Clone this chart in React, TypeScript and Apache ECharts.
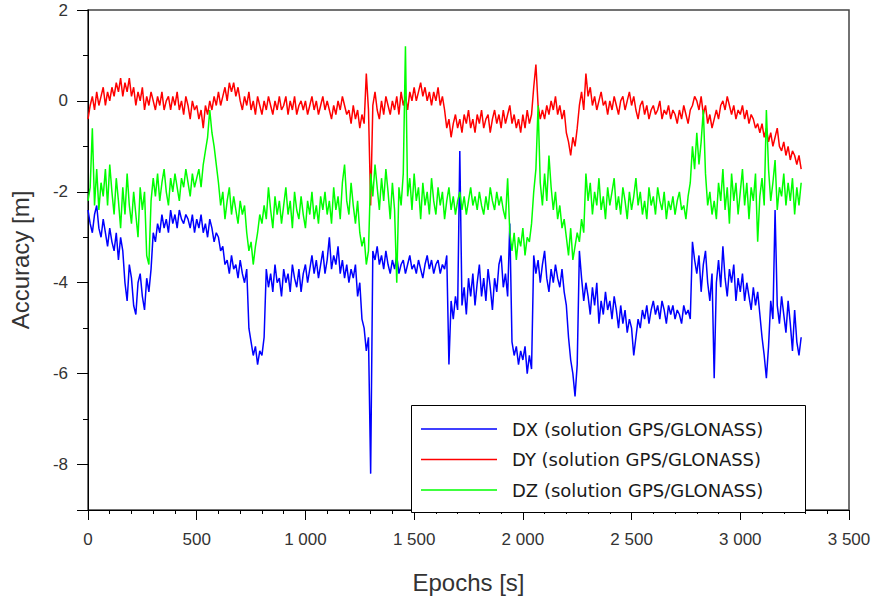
import React, { useEffect, useRef } from "react";
import * as echarts from "echarts";

// Sampling step of the epochs (s)
const EPOCH_STEP = 10;

// DX (solution GPS/GLONASS) – one value every 10 s, 0 s … 3280 s (rows of 100 s)
const dxValues = [
  -2.4, -2.7, -2.9, -2.5, -2.3, -2.8, -3.0, -2.6, -2.9, -3.2,
  -2.8, -3.1, -3.3, -2.9, -3.5, -3.0, -3.3, -4.0, -4.4, -3.6,
  -3.9, -4.5, -4.7, -4.0, -3.8, -4.3, -4.6, -3.9, -4.2, -3.7,
  -2.9, -3.1, -2.7, -2.9, -2.5, -2.8, -2.6, -2.9, -2.4, -2.7,
  -2.5, -2.8, -2.4, -2.6, -2.7, -2.5, -2.6, -2.8, -2.5, -2.9,
  -2.6, -2.8, -2.5, -2.9, -2.7, -3.0, -2.6, -2.8, -3.1, -2.9,
  -3.0, -3.3, -3.2, -3.6, -3.5, -3.8, -3.4, -3.7, -3.6, -3.9,
  -3.5, -3.8, -4.0, -3.7, -5.0, -5.3, -5.6, -5.4, -5.8, -5.5,
  -5.6, -5.2, -3.7, -4.1, -3.8, -4.2, -3.6, -4.0, -3.9, -4.3,
  -3.7, -4.0, -3.8, -4.2, -3.6, -3.9, -4.1, -3.7, -4.2, -3.8,
  -3.6, -4.0, -3.7, -3.4, -3.8, -3.5, -3.9, -3.6, -3.3, -3.8,
  -3.5, -3.0, -3.7, -3.4, -3.6, -3.2, -3.8, -3.5, -3.9, -3.6,
  -4.0, -3.7, -3.9, -3.6, -4.3, -4.0, -4.8, -5.0, -5.5, -5.2,
  -8.2, -3.3, -3.5, -3.2, -3.6, -3.4, -3.7, -3.3, -3.6, -3.8,
  -3.5, -3.7, -3.4, -3.8, -3.6, -3.5, -3.8, -3.6, -3.4, -3.7,
  -3.6, -3.8, -3.5, -3.7, -3.9, -3.6, -3.4, -3.7, -3.5, -3.8,
  -3.6, -3.5, -3.8, -3.6, -3.7, -3.4, -5.8, -4.4, -4.8, -4.3,
  -4.6, -1.1, -4.5, -4.1, -4.7, -3.9, -4.3, -3.8, -4.5, -4.0,
  -3.6, -4.3, -3.9, -4.4, -3.7, -4.1, -4.6, -3.9, -4.2, -3.6,
  -3.4, -4.1, -3.8, -4.3, -2.7, -5.3, -5.6, -5.4, -5.8, -5.5,
  -5.7, -5.4, -6.0, -5.6, -5.9, -3.4, -3.8, -3.5, -4.0, -3.6,
  -3.3, -3.9, -4.2, -3.7, -4.0, -3.6, -3.9, -4.1, -3.7, -4.2,
  -4.5, -5.2, -5.7, -6.0, -6.5, -5.8, -3.3, -3.9, -4.4, -4.0,
  -4.3, -4.7, -4.1, -4.5, -4.0, -4.9, -4.4, -4.7, -4.2, -4.6,
  -4.4, -4.8, -4.3, -4.6, -5.0, -4.5, -4.9, -4.6, -5.1, -4.8,
  -5.0, -5.6, -5.2, -4.8, -5.0, -4.6, -4.8, -4.5, -4.9, -4.6,
  -4.4, -4.7, -4.5, -4.8, -4.4, -4.6, -4.9, -4.5, -4.7, -4.5,
  -4.8, -4.6, -4.7, -4.9, -4.5, -4.7, -4.6, -4.8, -3.1, -3.5,
  -3.8, -3.4, -4.2, -3.6, -3.3, -4.0, -4.4, -3.8, -6.1, -4.0,
  -3.5, -4.1, -3.2, -3.9, -4.3, -3.7, -4.0, -3.6, -4.4, -3.9,
  -4.2, -3.8, -4.4, -4.0, -4.3, -4.6, -4.1, -4.5, -4.2, -4.7,
  -5.2, -5.6, -6.1, -5.4, -4.4, -4.8, -2.4, -4.5, -4.9, -4.3,
  -4.7, -5.1, -4.4, -4.9, -5.5, -4.6, -5.3, -5.6, -5.2,
];

// DY (solution GPS/GLONASS)
const dyValues = [
  -0.4, -0.1, 0.1, -0.2, 0.2, -0.1, 0.1, 0.3, -0.1, 0.2,
  0.0, 0.3, 0.1, 0.4, 0.2, 0.5, 0.1, 0.4, 0.2, 0.5,
  0.1, 0.3, -0.1, 0.2, 0.0, 0.3, -0.2, 0.1, -0.1, 0.2,
  0.0, -0.2, 0.1, -0.1, 0.2, -0.2, 0.0, 0.1, -0.2, 0.1,
  -0.1, 0.2, -0.2, 0.0, -0.3, 0.1, -0.1, -0.4, 0.0, -0.2,
  -0.1, -0.4, -0.2, -0.6, -0.1, -0.3, 0.0, -0.2, 0.1, -0.1,
  0.2, -0.1, 0.1, 0.3, 0.0, 0.4, 0.2, 0.4, 0.1, 0.3,
  0.0, -0.2, 0.1, -0.1, 0.2, -0.2, 0.0, -0.3, 0.1, -0.1,
  -0.3, 0.0, -0.2, 0.1, -0.1, -0.3, 0.0, -0.2, 0.1, -0.2,
  -0.1, 0.1, -0.3, 0.0, -0.2, 0.1, -0.3, -0.1, 0.0, -0.2,
  0.0, -0.3, -0.1, 0.1, -0.2, 0.0, -0.3, -0.1, 0.1, -0.2,
  0.0, -0.2, -0.4, -0.1, -0.3, 0.0, -0.2, 0.1, -0.1, -0.3,
  -0.2, -0.5, -0.1, -0.4, -0.2, -0.6, -0.3, -0.5, 0.6, -0.2,
  -2.3, -0.1, 0.2, -0.2, -0.4, 0.0, -0.3, 0.1, -0.1, -0.3,
  0.0, -0.2, 0.1, -0.3, 0.2, -0.1, 0.1, -0.2, 0.2, 0.0,
  0.3, 0.0, 0.2, 0.4, 0.1, 0.3, 0.0, 0.2, -0.1, 0.2,
  0.0, 0.3, -0.1, 0.1, -0.2, -0.6, -0.4, -0.8, -0.5, -0.3,
  -0.6, -0.4, -0.7, -0.3, -0.5, -0.2, -0.6, -0.4, -0.7, -0.3,
  -0.5, -0.2, -0.6, -0.4, -0.3, -0.7, -0.4, -0.2, -0.5, -0.3,
  -0.6, -0.2, -0.5, -0.3, -0.1, -0.5, -0.3, -0.6, -0.4, -0.7,
  -0.3, -0.6, -0.2, -0.5, -0.3, 0.3, 0.8, -0.1, -0.4, -0.2,
  -0.4, -0.1, -0.3, 0.0, -0.2, 0.1, -0.3, -0.1, -0.4, -0.2,
  -0.7, -0.9, -1.2, -0.8, -1.0, -0.6, -0.1, 0.2, -0.2, 0.6,
  0.1, 0.3, -0.1, 0.1, -0.2, 0.0, 0.2, -0.1, 0.0, -0.3,
  0.0, -0.2, 0.1, -0.1, -0.3, 0.0, 0.1, -0.2, 0.0, 0.2,
  -0.1, 0.1, -0.2, -0.4, -0.1, 0.0, -0.3, -0.1, -0.4, -0.2,
  -0.1, -0.3, -0.2, 0.0, -0.4, -0.2, -0.3, -0.1, -0.4, -0.2,
  -0.3, -0.5, -0.2, -0.4, -0.1, -0.3, -0.5, -0.2, -0.1, 0.1,
  0.0, -0.2, 0.1, -0.3, -0.1, -0.5, -0.3, -0.6, -0.4, -0.2,
  -0.4, -0.1, 0.0, -0.2, 0.1, -0.1, -0.3, -0.1, -0.4, -0.2,
  -0.3, -0.1, -0.4, -0.2, -0.5, -0.3, -0.4, -0.6, -0.5, -0.7,
  -0.5, -0.8, -0.6, -0.9, -0.7, -1.0, -0.8, -0.6, -1.0, -1.1,
  -0.9, -1.2, -1.0, -1.3, -1.1, -1.2, -1.4, -1.2, -1.5,
];

// DZ (solution GPS/GLONASS)
const dzValues = [
  -2.2, -1.9, -0.6, -2.3, -1.5, -2.4, -1.8, -2.1, -1.5, -2.3,
  -1.4, -2.0, -2.5, -1.7, -2.2, -2.8, -1.9, -2.5, -1.6, -2.3,
  -2.7, -2.0, -2.5, -3.0, -1.9, -2.4, -2.0, -3.4, -3.6, -2.2,
  -1.7, -2.1, -1.6, -2.2, -1.8, -1.5, -2.0, -2.3, -1.7, -2.0,
  -1.6, -1.9, -2.2, -1.7, -1.9, -1.5, -1.8, -2.1, -1.6, -1.9,
  -1.7, -1.5, -1.9, -1.4, -1.1, -0.8, -0.2, -0.7, -1.0, -1.4,
  -1.8, -2.3, -2.0, -2.6, -2.2, -1.9, -2.5, -2.1, -2.4, -2.7,
  -2.2, -2.5, -2.3, -2.9, -3.3, -3.1, -3.6, -3.2, -2.9, -2.5,
  -2.7, -2.3, -2.6, -1.9, -2.4, -2.8, -2.1, -2.5, -2.2, -2.7,
  -2.3, -1.9, -2.5, -2.2, -2.8, -2.0, -2.4, -2.6, -2.1, -2.5,
  -2.8, -2.2, -2.5, -2.0, -2.6, -2.3, -2.7, -2.1, -2.4, -2.0,
  -2.5, -2.2, -2.7, -1.9, -2.4, -2.1, -2.6, -1.8, -1.4, -2.2,
  -2.5, -1.8, -2.3, -2.7, -2.2, -2.9, -3.2, -3.0, -3.6, -3.3,
  -1.6, -2.1, -1.4, -1.9, -2.4, -1.7, -2.2, -1.5, -2.0, -2.6,
  -1.8, -2.4, -4.0, -1.9, -2.3, -1.6, 1.2, -2.1, -1.7, -2.4,
  -1.6, -2.2, -1.9, -2.6, -1.8, -2.3, -2.0, -2.5, -1.7, -2.2,
  -2.5, -1.9, -2.3, -2.0, -2.6, -2.2, -1.9, -2.4, -2.1, -2.5,
  -2.2, -2.0, -2.4, -2.1, -2.5, -2.2, -1.9, -2.3, -2.1, -2.4,
  -2.0, -2.3, -2.5, -2.1, -2.4, -1.9, -2.2, -2.4, -2.0, -2.3,
  -2.1, -2.4, -2.6, -1.7, -2.9, -3.3, -2.9, -3.5, -3.0, -3.2,
  -2.8, -3.4, -3.0, -3.1, -2.7, -2.0, -1.5, -0.1, -1.8, -2.3,
  -1.6, -2.2, -1.2, -1.9, -2.4, -2.0, -2.6, -2.3, -2.8, -2.6,
  -3.0, -3.4, -2.8, -3.5, -3.2, -2.9, -3.1, -2.6, -2.9, -1.6,
  -2.2, -1.8, -2.5, -2.0, -2.3, -1.7, -2.4, -2.1, -2.6, -1.9,
  -2.3, -2.0, -1.7, -2.4, -2.1, -2.5, -1.9, -2.2, -2.6, -2.0,
  -2.4, -2.1, -1.7, -2.3, -2.0, -2.5, -2.2, -2.6, -1.9, -2.3,
  -2.1, -2.5, -1.9, -2.2, -2.4, -2.0, -2.6, -2.2, -2.4, -2.1,
  -2.5, -2.2, -2.0, -2.4, -2.3, -2.6, -2.1, -1.8, -1.0, -1.5,
  -0.7, -1.4, -0.9, -0.2, -1.6, -2.3, -2.0, -2.5, -2.2, -2.6,
  -1.8, -2.2, -1.5, -2.4, -1.9, -2.7, -1.6, -2.2, -1.8, -2.5,
  -2.0, -1.5, -2.3, -1.8, -2.6, -1.9, -2.2, -1.6, -3.1, -2.1,
  -1.7, -2.3, -0.2, -1.5, -2.2, -1.8, -1.3, -2.4, -1.9, -2.1,
  -1.6, -2.3, -1.8, -2.2, -1.7, -2.5, -1.9, -2.3, -1.8,
];

const seriesNames = [
  "DX (solution GPS/GLONASS)",
  "DY (solution GPS/GLONASS)",
  "DZ (solution GPS/GLONASS)",
];
const seriesColors = ["#0000ff", "#ff0000", "#00ff00"];

const yLabelValues = [-8, -6, -4, -2, 0, 2];
const yMajorTickValues = [-9, -8, -6, -4, -2, 0, 2];

const toPairs = (vals: number[]) => vals.map((v, i) => [i * EPOCH_STEP, v]);

export default function App() {
  const ref = useRef<HTMLDivElement>(null);

  useEffect(() => {
    if (!ref.current) return;
    const chart = echarts.init(ref.current, null, { renderer: "svg" });
    const labelFont = "'Liberation Sans', Arial, sans-serif";
    const data = [dxValues, dyValues, dzValues];

    chart.setOption({
      animation: false,
      backgroundColor: "#ffffff",
      grid: {
        left: 88,
        right: 33,
        top: 10,
        bottom: 93,
        show: true,
        borderColor: "#444",
        borderWidth: 1.5,
        backgroundColor: "transparent",
      },
      xAxis: {
        type: "value",
        min: 0,
        max: 3500,
        interval: 500,
        name: "Epochs [s]",
        nameLocation: "middle",
        nameGap: 60,
        nameTextStyle: { fontSize: 24, color: "#333", fontFamily: labelFont },
        axisLine: { show: true, onZero: false, lineStyle: { color: "#000", width: 1 } },
        axisTick: { show: true, inside: false, length: 10, lineStyle: { color: "#000" } },
        minorTick: { show: true, splitNumber: 5, length: 4, lineStyle: { color: "#000" } },
        splitLine: { show: false },
        minorSplitLine: { show: false },
        axisLabel: {
          margin: 21,
          fontSize: 17,
          color: "#333",
          fontFamily: labelFont,
          formatter: (v: number) =>
            v >= 1000 ? `${Math.floor(v / 1000)} ${String(v % 1000).padStart(3, "0")}` : `${v}`,
        },
      },
      yAxis: [
        {
          type: "value",
          min: -9,
          max: 2,
          interval: 1,
          name: "Accuracy [m]",
          nameLocation: "middle",
          nameRotate: 90,
          nameGap: 56,
          nameTextStyle: { fontSize: 24, color: "#333", fontFamily: labelFont },
          axisLine: { show: true, onZero: false, lineStyle: { color: "#000", width: 1 } },
          axisTick: {
            show: true,
            inside: false,
            length: 11,
            customValues: yMajorTickValues,
            lineStyle: { color: "#000" },
          },
          splitLine: { show: false },
          axisLabel: {
            margin: 20,
            fontSize: 17,
            color: "#333",
            fontFamily: labelFont,
            customValues: yLabelValues,
          },
        },
        {
          type: "value",
          min: -9,
          max: 2,
          interval: 1,
          position: "left",
          axisLine: { show: false },
          axisTick: { show: true, inside: false, length: 5, lineStyle: { color: "#000" } },
          axisLabel: { show: false },
          splitLine: { show: false },
        },
      ],
      legend: {
        orient: "vertical",
        left: 421,
        top: 419,
        z: 20,
        padding: 0,
        icon: "rect",
        itemWidth: 76,
        itemHeight: 1.5,
        itemGap: 10.5,
        data: seriesNames,
        textStyle: {
          fontSize: 18,
          lineHeight: 20,
          fontFamily: "'DejaVu Sans', sans-serif",
          color: "#1a1a1a",
          padding: [0, 0, 0, 10],
        },
      },
      graphic: {
        elements: [
          {
            type: "rect",
            z: 10,
            x: 411.5,
            y: 405.5,
            shape: { x: 0, y: 0, width: 394, height: 107 },
            style: { fill: "#ffffff", stroke: "#000000", lineWidth: 1 },
          },
        ],
      },
      series: data.map((vals, i) => ({
        name: seriesNames[i],
        type: "line",
        yAxisIndex: 0,
        data: toPairs(vals),
        symbol: "none",
        showSymbol: false,
        lineStyle: { color: seriesColors[i], width: 1.5 },
        itemStyle: { color: seriesColors[i] },
        z: 2,
      })),
    });

    return () => chart.dispose();
  }, []);

  return (
    <div
      ref={ref}
      style={{ position: "absolute", left: 0, top: 0, width: 882, height: 603, background: "#fff" }}
    />
  );
}
